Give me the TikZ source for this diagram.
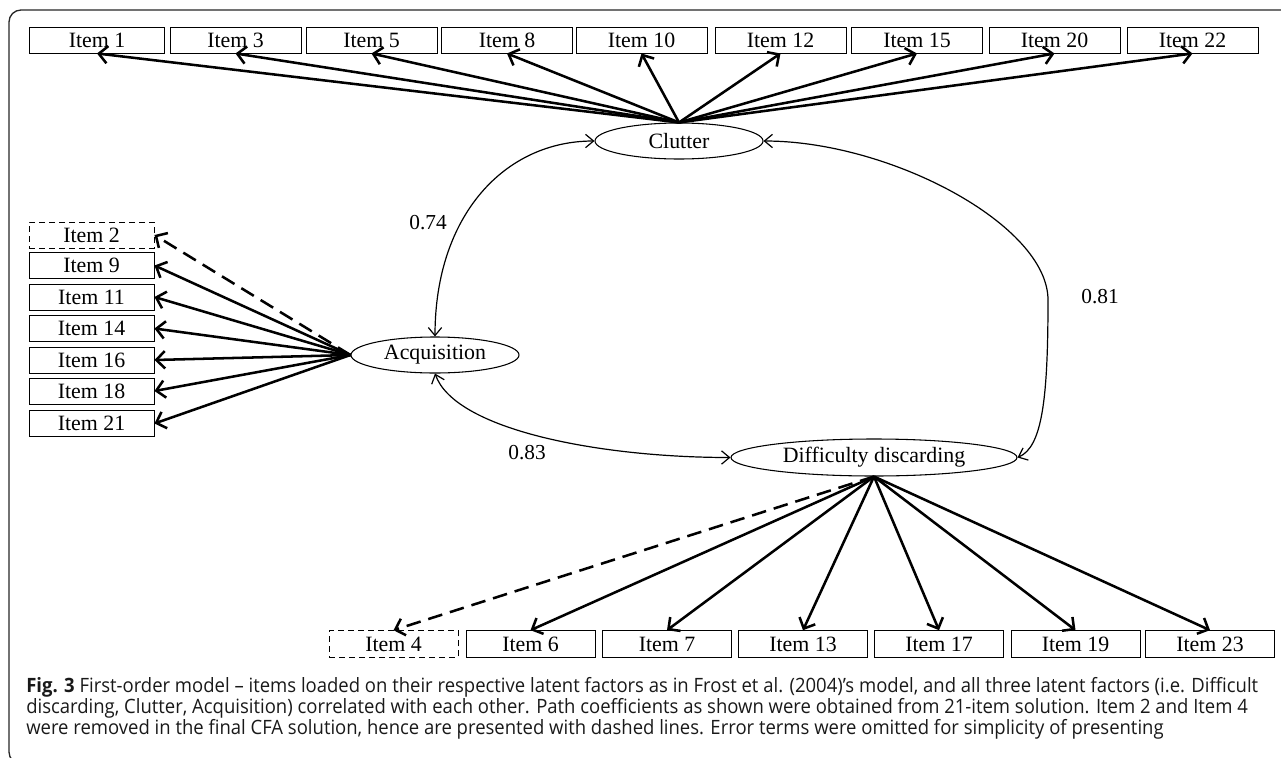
\documentclass[tikz,border=0pt]{standalone}
\usepackage{fontspec}
\setmainfont{Liberation Serif}
\newfontfamily\capfont{Open Sans}
\usepackage{graphicx}
\usetikzlibrary{arrows.meta,shapes.geometric}
\newsavebox\capone
\newcommand\capfirst{\textbf{Fig. 3} First-order model – items loaded on their respective latent factors as in Frost et al. (2004)’s model, and all three latent factors (i.e. Difficult}
\AtBeginDocument{%
  \sbox\capone{\capfont\fontsize{14.8}{17}\selectfont\capfirst}%
  \pgfmathsetmacro\capsx{924/\the\wd\capone}%
}
\tikzset{
  x=0.75pt, y=-0.75pt,
  itembox/.style={draw, line width=0.7pt, minimum width=98.25pt, minimum height=19.5pt, inner sep=0pt, font=\fontsize{16.4}{18}\selectfont},
  lbox/.style={itembox, minimum width=93.75pt},
  bbox/.style={itembox, minimum width=96.75pt, minimum height=20pt},
  gonebox/.style={dash pattern=on 4.5pt off 3pt},
  latent/.style={draw, ellipse, line width=0.8pt, inner sep=0pt, minimum height=27pt, minimum width=126pt, font=\fontsize{16.4}{18}\selectfont},
  load/.style={line width=1.9pt, -{Straight Barb[length=6.5pt,width=13pt]}},
  dashload/.style={load, dash pattern=on 11pt off 6pt},
  corr/.style={line width=0.9pt, {Straight Barb[length=6pt,width=10pt]}-{Straight Barb[length=6pt,width=10pt]}},
  coef/.style={inner sep=0pt, font=\fontsize{16}{18}\selectfont},
  capline/.style={anchor=base west, inner sep=0pt, text=black!90, font=\capfont\fontsize{14.8}{17}\selectfont},
}
\begin{document}
\begin{tikzpicture}
\useasboundingbox (0,0) rectangle (1281,757);
% frame
\begin{scope}
  \clip (0,0) rectangle (1281,757);
  \draw[line width=1pt, black!85, rounded corners=9pt] (9,10) rectangle (1300,764);
\end{scope}

% latent factors
\node[latent] (clutter) at (679,141) {Clutter};
\node[latent] (acq) at (435,355) {Acquisition};
\node[latent, minimum width=214.5pt, minimum height=27.75pt] (dd) at (874,457.5) {Difficulty discarding};

% top items
\node[itembox, minimum width=101.25pt] (i1) at (97,40) {Item 1};
\node[itembox] (i3) at (235.5,40) {Item 3};
\node[itembox] (i5) at (371.5,40) {Item 5};
\node[itembox] (i8) at (507,40) {Item 8};
\node[itembox] (i10) at (641.5,40) {Item 10};
\node[itembox] (i12) at (780.5,40) {Item 12};
\node[itembox] (i15) at (917,40) {Item 15};
\node[itembox] (i20) at (1054.5,40) {Item 20};
\node[itembox] (i22) at (1192.5,40) {Item 22};

% left items
\node[lbox, gonebox] (i2) at (91.5,235) {Item 2};
\node[lbox] (i9) at (91.5,265.5) {Item 9};
\node[lbox] (i11) at (91.5,297) {Item 11};
\node[lbox] (i14) at (91.5,328.5) {Item 14};
\node[lbox] (i16) at (91.5,360) {Item 16};
\node[lbox] (i18) at (91.5,391) {Item 18};
\node[lbox] (i21) at (91.5,423.5) {Item 21};

% bottom items
\node[bbox, gonebox] (i4) at (393.5,644) {Item 4};
\node[bbox] (i6) at (530.5,644) {Item 6};
\node[bbox] (i7) at (667,644) {Item 7};
\node[bbox] (i13) at (803,644) {Item 13};
\node[bbox] (i17) at (939,644) {Item 17};
\node[bbox] (i19) at (1075.5,644) {Item 19};
\node[bbox] (i23) at (1210,644) {Item 23};

% loadings: Clutter
\foreach \t in {i1,i3,i5,i8,i10,i12,i15,i20,i22}
  \draw[load] (clutter.north) -- (\t.south);
% loadings: Acquisition
\draw[dashload] (acq.west) -- (i2.east);
\foreach \t in {i9,i11,i14,i16,i18,i21}
  \draw[load] (acq.west) -- (\t.east);
% loadings: Difficulty discarding
\draw[dashload] (dd.south) -- (i4.north);
\foreach \t in {i6,i7,i13,i17,i19,i23}
  \draw[load] (dd.south) -- (\t.north);

% correlations
\draw[corr] (acq.north) .. controls (435,215) and (505,141) .. (clutter.west);
\draw[corr] (acq.south) .. controls (455,430) and (600,457.5) .. (dd.west);
\draw[corr] (clutter.east) .. controls (890,141) and (1048,225) .. (1048,300)
   .. controls (1048,400) and (1042,447) .. (dd.east);
\node[coef] (c74) at (428,223) {0.74};
\node[coef] (c83) at (527,453) {0.83};
\node[coef] (c81) at (1100,297) {0.81};

% caption
\node[capline] (cap1) at (26,692) {\scalebox{\capsx}[1]{\capfirst}};
\node[capline] (cap2) at (26,713) {\scalebox{\capsx}[1]{discarding, Clutter, Acquisition) correlated with each other. Path coefficients as shown were obtained from 21-item solution. Item 2 and Item 4}};
\node[capline] (cap3) at (26,734) {\scalebox{\capsx}[1]{were removed in the final CFA solution, hence are presented with dashed lines. Error terms were omitted for simplicity of presenting}};
\end{tikzpicture}
\end{document}
